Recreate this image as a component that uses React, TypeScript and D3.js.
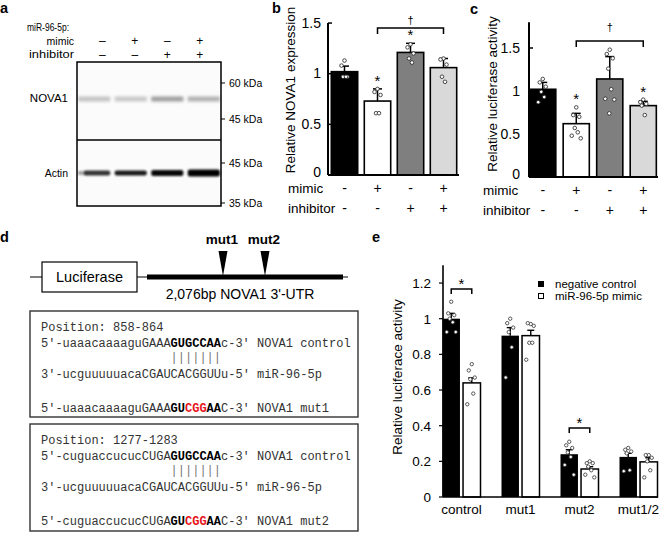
import React from "react";
import * as d3 from "d3";

// ---------- data ----------
const conditions = ["NC", "mimic", "inhibitor", "mimic+inhibitor"];
const mimicSigns = ["-", "+", "-", "+"];
const inhibitorSigns = ["-", "-", "+", "+"];
const barFills = ["#000000", "#ffffff", "#7f7f7f", "#d9d9d9"];

// panel b: relative NOVA1 expression
const nova1Means = [1.02, 0.73, 1.21, 1.06];
const nova1SD = [0.055, 0.12, 0.09, 0.09];
const nova1Dots = [
  [1.13, 1.08, 0.97, 0.97, 0.97],
  [0.85, 0.82, 0.79, 0.61, 0.61],
  [1.29, 1.26, 1.2, 1.15, 1.11],
  [1.15, 1.14, 1.09, 0.97, 0.92],
];
const nova1Sig = [false, true, true, false];
const nova1Ticks = [0, 0.5, 1, 1.5];

// panel c: relative luciferase activity
const lucMeans = [1.02, 0.62, 1.14, 0.83];
const lucSD = [0.08, 0.12, 0.26, 0.05];
const lucDots = [
  [1.14, 1.1, 1.05, 0.99, 0.93, 0.87],
  [0.81, 0.72, 0.7, 0.57, 0.52, 0.48, 0.45],
  [1.48, 1.43, 1.38, 1.26, 1.02, 0.91, 0.9, 0.74],
  [0.9, 0.87, 0.85, 0.83, 0.72],
];
const lucSig = [false, true, false, true];
const lucTicks = [0, 0.5, 1, 1.5];

// panel e: reporter constructs
const constructs = ["control", "mut1", "mut2", "mut1/2"];
const seriesNames = ["negative control", "miR-96-5p mimic"];
const ncMeans = [1.0, 0.905, 0.24, 0.225];
const ncSE = [0.03, 0.045, 0.025, 0.02];
const mimicMeans = [0.64, 0.905, 0.157, 0.197];
const mimicSE = [0.028, 0.03, 0.013, 0.023];
const ncDots = [
  [1.095, 1.03, 1.02, 1.0, 0.98, 0.925, 0.925],
  [1.0, 0.975, 0.95, 0.925, 0.84, 0.67],
  [0.31, 0.29, 0.275, 0.25, 0.225, 0.18, 0.125],
  [0.275, 0.265, 0.255, 0.245, 0.15, 0.145],
];
const mimicDots = [
  [0.745, 0.71, 0.67, 0.66, 0.58, 0.52],
  [0.97, 0.975, 0.96, 0.865, 0.865, 0.77],
  [0.2, 0.19, 0.19, 0.17, 0.15, 0.125, 0.11],
  [0.235, 0.235, 0.22, 0.2, 0.15, 0.11],
];
const constructSig = [true, false, true, false];
const eTicks = [0, 0.2, 0.4, 0.6, 0.8, 1, 1.2];

// panel a: western blot
const novaBandIntensity = [0.3, 0.27, 0.5, 0.4];
const actinBandIntensity = [0.8, 0.9, 0.97, 1];
const actinBandHeight = [5, 5, 6, 7];
const novaMarkers = ["60 kDa", "45 kDa"];
const actinMarkers = ["45 kDa", "35 kDa"];

// panel d: sequences
const site1 = "Position: 858-864";
const site2 = "Position: 1277-1283";
const ctrl1 = [{ t: "5'-uaaacaaaaguGAAA" }, { t: "GUGCCAA", b: true }, { t: "c-3' NOVA1 control" }];
const ctrl2 = [{ t: "5'-cuguaccucucCUGA" }, { t: "GUGCCAA", b: true }, { t: "c-3' NOVA1 control" }];
const mirna = [{ t: "3'-ucguuuuuacaCGAUCACGGUUu-5' miR-96-5p" }];
const mut1Seq = [
  { t: "5'-uaaacaaaaguGAAA" }, { t: "GU", b: true }, { t: "CGG", b: true, r: true },
  { t: "AA", b: true }, { t: "C-3' NOVA1 mut1" },
];
const mut2Seq = [
  { t: "5'-cuguaccucucCUGA" }, { t: "GU", b: true }, { t: "CGG", b: true, r: true },
  { t: "AA", b: true }, { t: "C-3' NOVA1 mut2" },
];
const pairs = "|||||||";

// ---------- styling ----------
const sans = "'Liberation Sans', Arial, sans-serif";
const mono = "'Liberation Mono', 'Courier New', monospace";
const jit = [0, -3, 3, -1.5, 1.5, -4.5, 4.5, -0.5];

type Seg = { t: string; b?: boolean; r?: boolean };

function SeqLine({ segs, x, y, cw }: { segs: Seg[]; x: number; y: number; cw: number }) {
  let idx = 0;
  return (
    <text y={y} fontFamily={mono} fontSize={12} fill="#333" style={{ whiteSpace: "pre" }}>
      {segs.map((s, i) => {
        const el = (
          <tspan key={i} x={x + idx * cw} fontWeight={s.b ? "bold" : "normal"} fill={s.r ? "#e8141b" : s.b ? "#000" : "#333"}>
            {s.t}
          </tspan>
        );
        idx += s.t.length;
        return el;
      })}
    </text>
  );
}

function BarPanel(props: {
  means: number[]; sds: number[]; dots: number[][]; sig: boolean[];
  axisX: number; baseY: number; yMax: number; pxPerUnit: number; ticks: number[];
  bandRange: [number, number]; pi: number; po: number; axisEnd: number;
  tickLabelX: number; rowLabelX: number; ylab: string; ylabX: number; ylabY: number;
  bracketVal: number; daggerGap: number;
}) {
  const p = props;
  const y = d3.scaleLinear().domain([0, p.yMax]).range([p.baseY, p.baseY - p.yMax * p.pxPerUnit]);
  const x = d3.scaleBand<number>().domain(d3.range(4)).range(p.bandRange).paddingInner(p.pi).paddingOuter(p.po);
  const bw = x.bandwidth();
  const cx = (i: number) => (x(i) as number) + bw / 2;
  const by = y(p.bracketVal);
  return (
    <g fontFamily={sans}>
      {p.means.map((m, i) => (
        <rect key={"bar" + i} x={x(i)} y={y(m)} width={bw} height={p.baseY - y(m)} fill={barFills[i]} stroke="#000" strokeWidth={1.6} />
      ))}
      {p.means.map((m, i) => (
        <g key={"err" + i} stroke="#000" strokeWidth={1.5}>
          <line x1={cx(i)} x2={cx(i)} y1={y(m)} y2={y(m + p.sds[i])} />
          <line x1={cx(i) - 4.5} x2={cx(i) + 4.5} y1={y(m + p.sds[i])} y2={y(m + p.sds[i])} />
        </g>
      ))}
      {p.dots.map((ds, i) =>
        ds.map((v, j) => (
          <circle key={"d" + i + "-" + j} cx={cx(i) + jit[j % 8]} cy={y(v)} r={1.8} fill="#fff" stroke="#222" strokeWidth={0.8} />
        ))
      )}
      {p.sig.map((s, i) =>
        s ? (
          <text key={"s" + i} x={cx(i)} y={y(Math.max(p.means[i] + p.sds[i], ...p.dots[i])) - 3} textAnchor="middle" fontSize={15}>*</text>
        ) : null
      )}
      <path d={`M${cx(1)},${by + 6}V${by}H${cx(3)}V${by + 6}`} fill="none" stroke="#000" strokeWidth={1.5} />
      <text x={(cx(1) + cx(3)) / 2} y={by - p.daggerGap} textAnchor="middle" fontSize={11}>†</text>
      <line x1={p.axisX} x2={p.axisX} y1={p.baseY} y2={y(p.yMax)} stroke="#000" strokeWidth={2} />
      <line x1={p.axisX} x2={p.axisEnd} y1={p.baseY} y2={p.baseY} stroke="#000" strokeWidth={2} />
      {p.ticks.map((t) => (
        <g key={"t" + t}>
          <line x1={p.axisX} x2={p.axisX + 4} y1={y(t)} y2={y(t)} stroke="#000" strokeWidth={1.5} />
          <text x={p.tickLabelX} y={y(t) + (t === 0 ? 2 : 4.5)} textAnchor="end" fontSize={14}>{t}</text>
        </g>
      ))}
      <text transform={`translate(${p.ylabX},${p.ylabY}) rotate(-90)`} textAnchor="middle" fontSize={13.5}>{p.ylab}</text>
      <text x={p.rowLabelX} y={p.baseY + 18} fontSize={13.5}>mimic</text>
      <text x={p.rowLabelX} y={p.baseY + 38} fontSize={13.5}>inhibitor</text>
      {conditions.map((c, i) => (
        <g key={"sg" + c}>
          <text x={cx(i)} y={p.baseY + 18} textAnchor="middle" fontSize={14}>{mimicSigns[i]}</text>
          <text x={cx(i)} y={p.baseY + 38} textAnchor="middle" fontSize={14}>{inhibitorSigns[i]}</text>
        </g>
      ))}
    </g>
  );
}

export default function App() {
  // ----- panel a -----
  const laneX = d3.scaleBand<number>().domain(d3.range(4)).range([77, 221]).paddingInner(0.12).paddingOuter(0.03);
  const signX = d3.scaleBand<number>().domain(d3.range(4)).range([86, 216]);
  const sgx = (i: number) => (signX(i) as number) + signX.bandwidth() / 2;

  // ----- panel e -----
  const yE = d3.scaleLinear().domain([0, 1.3]).range([497, 497 - 1.3 * 178.3]);
  const xE = d3.scaleBand<string>().domain(constructs).range([432, 668]);
  const xS = d3.scaleBand<number>().domain([0, 1]).range([-19, 19]).paddingInner(0.15);
  const gc = (c: string) => (xE(c) as number) + xE.bandwidth() / 2;
  const sbw = xS.bandwidth();
  const eSeries = [
    { means: ncMeans, se: ncSE, dots: ncDots, fill: "#000" },
    { means: mimicMeans, se: mimicSE, dots: mimicDots, fill: "#fff" },
  ];
  const eBracketVals = [1.167, 0, 0.387, 0];

  const cw = 7.2;
  const boxTops = [311, 424];
  const lineOff = [19.5, 35.5, 49.5, 66.5, 100.5];
  const boxes = [
    { pos: site1, ctrl: ctrl1, mut: mut1Seq },
    { pos: site2, ctrl: ctrl2, mut: mut2Seq },
  ];
  const mutArrowX = [223, 265];
  const mutLabels = ["mut1", "mut2"];

  return (
    <svg width={660} height={533} style={{ position: "absolute", left: 0, top: 0, background: "#fff" }} fontFamily={sans}>
      <defs>
        <filter id="blur" x="-20%" y="-100%" width="140%" height="300%">
          <feGaussianBlur stdDeviation="1.4" />
        </filter>
        <filter id="blur2" x="-20%" y="-100%" width="140%" height="300%">
          <feGaussianBlur stdDeviation="0.9" />
        </filter>
      </defs>
      <rect width={660} height={533} fill="#fff" />

      {/* ---------- panel a ---------- */}
      <text x={0} y={13} fontSize={14.5} fontWeight="bold">a</text>
      <text x={69} y={31} textAnchor="end" fontSize={10.5} textLength={42} lengthAdjust="spacingAndGlyphs">miR-96-5p:</text>
      <text x={74} y={45} textAnchor="end" fontSize={10.5}>mimic</text>
      <text x={74} y={58} textAnchor="end" fontSize={10.5} textLength={45} lengthAdjust="spacingAndGlyphs">inhibitor</text>
      {conditions.map((c, i) => (
        <g key={"as" + c} fontSize={12}>
          <text x={sgx(i)} y={45} textAnchor="middle">{mimicSigns[i] === "-" ? "–" : "+"}</text>
          <text x={sgx(i)} y={59} textAnchor="middle">{inhibitorSigns[i] === "-" ? "–" : "+"}</text>
        </g>
      ))}
      <rect x={77} y={62} width={144} height={144} fill="#fbfbfb" />
      {novaBandIntensity.map((v, i) => (
        <rect key={"nb" + i} x={laneX(i)} y={96.5} width={laneX.bandwidth()} height={5} fill="#444" opacity={v} filter="url(#blur)" />
      ))}
      {actinBandIntensity.map((v, i) => (
        <rect key={"ab" + i} x={(laneX(i) as number) + (i === 0 ? 6 : 0)} y={173 - actinBandHeight[i] / 2} width={laneX.bandwidth() - (i === 0 ? 6 : 0)} height={actinBandHeight[i]} rx={2} fill="#000" opacity={v} filter="url(#blur2)" />
      ))}
      <rect x={(laneX(0) as number)} y={171} width={8} height={4} fill="#000" opacity={0.35} filter="url(#blur2)" />
      <rect x={77} y={62} width={144} height={144} fill="none" stroke="#000" strokeWidth={1.5} />
      <line x1={77} x2={221} y1={140} y2={140} stroke="#000" strokeWidth={1.5} />
      <text x={68} y={102} textAnchor="end" fontSize={11.5}>NOVA1</text>
      <text x={68} y={177} textAnchor="end" fontSize={10.5}>Actin</text>
      {[83, 119].map((yy, i) => (
        <g key={"nm" + i}>
          <line x1={221} x2={225} y1={yy} y2={yy} stroke="#000" strokeWidth={1} />
          <text x={229} y={yy + 4} fontSize={10.5}>{novaMarkers[i]}</text>
        </g>
      ))}
      {[163, 203].map((yy, i) => (
        <g key={"am" + i}>
          <line x1={221} x2={225} y1={yy} y2={yy} stroke="#000" strokeWidth={1} />
          <text x={229} y={yy + 4} fontSize={10.5}>{actinMarkers[i]}</text>
        </g>
      ))}

      {/* ---------- panel b ---------- */}
      <text x={272} y={13} fontSize={14.5} fontWeight="bold">b</text>
      <BarPanel
        means={nova1Means} sds={nova1SD} dots={nova1Dots} sig={nova1Sig}
        axisX={328} baseY={175} yMax={1.5} pxPerUnit={101.3} ticks={nova1Ticks}
        bandRange={[328, 460]} pi={0.2} po={0.1} axisEnd={459}
        tickLabelX={321} rowLabelX={288} ylab="Relative NOVA1 expression" ylabX={295} ylabY={90}
        bracketVal={1.45} daggerGap={4}
      />

      {/* ---------- panel c ---------- */}
      <text x={470} y={14} fontSize={14.5} fontWeight="bold">c</text>
      <BarPanel
        means={lucMeans} sds={lucSD} dots={lucDots} sig={lucSig}
        axisX={529} baseY={177} yMax={1.8} pxPerUnit={86} ticks={lucTicks}
        bandRange={[528, 658]} pi={0.22} po={0.05} axisEnd={658}
        tickLabelX={520} rowLabelX={483} ylab="Relative luciferase activity" ylabX={497} ylabY={94}
        bracketVal={1.58} daggerGap={10}
      />

      {/* ---------- panel d ---------- */}
      <text x={0} y={242} fontSize={14.5} fontWeight="bold">d</text>
      <line x1={30} x2={348} y1={277} y2={277} stroke="#000" strokeWidth={1.2} />
      <rect x={42} y={262} width={95} height={30} fill="#fff" stroke="#000" strokeWidth={1.2} />
      <text x={89.5} y={282} textAnchor="middle" fontSize={14.5}>Luciferase</text>
      <rect x={147} y={274.5} width={196} height={5} fill="#000" />
      <text x={240} y={299} textAnchor="middle" fontSize={14}>2,076bp NOVA1 3'-UTR</text>
      {mutArrowX.map((mx, i) => (
        <g key={"ma" + i}>
          <path d={`M${mx - 4.5},251L${mx + 4.5},251L${mx},276Z`} fill="#000" />
          <text x={mx - 1} y={244} textAnchor="middle" fontSize={13.5} fontWeight="bold">{mutLabels[i]}</text>
        </g>
      ))}
      {boxes.map((bx, k) => {
        const t = boxTops[k];
        return (
          <g key={"box" + k}>
            <rect x={30} y={t} width={328} height={k === 0 ? 106 : 107} fill="#fff" stroke="#333" strokeWidth={1.4} />
            <text x={41} y={t + lineOff[0]} fontFamily={mono} fontSize={12} fill="#333">{bx.pos}</text>
            <SeqLine segs={bx.ctrl} x={41} y={t + lineOff[1]} cw={cw} />
            <text x={41 + 18 * cw} y={t + lineOff[2]} fontFamily={mono} fontSize={12} fill="#777" style={{ whiteSpace: "pre" }}>{pairs}</text>
            <SeqLine segs={mirna} x={41} y={t + lineOff[3]} cw={cw} />
            <SeqLine segs={bx.mut} x={41} y={t + lineOff[4]} cw={cw} />
          </g>
        );
      })}

      {/* ---------- panel e ---------- */}
      <text x={372} y={242} fontSize={14.5} fontWeight="bold">e</text>
      {eSeries.map((s, si) =>
        constructs.map((c, i) => {
          const x0 = gc(c) + (xS(si) as number);
          return (
            <rect key={"eb" + si + c} x={x0} y={yE(s.means[i])} width={sbw} height={497 - yE(s.means[i])} fill={s.fill} stroke="#000" strokeWidth={si === 1 ? 1.5 : 0} />
          );
        })
      )}
      {eSeries.map((s, si) =>
        constructs.map((c, i) => {
          const xc = gc(c) + (xS(si) as number) + sbw / 2;
          const top = yE(s.means[i] + s.se[i]);
          return (
            <g key={"ee" + si + c} stroke="#000" strokeWidth={1.4}>
              <line x1={xc} x2={xc} y1={yE(s.means[i])} y2={top} />
              <line x1={xc - 3.5} x2={xc + 3.5} y1={top} y2={top} />
            </g>
          );
        })
      )}
      {eSeries.map((s, si) =>
        constructs.map((c, i) => {
          const xc = gc(c) + (xS(si) as number) + sbw / 2;
          return s.dots[i].map((v, j) => (
            <circle key={"ed" + si + c + j} cx={xc + jit[j % 8]} cy={yE(v)} r={1.7} fill="#fff" stroke="#333" strokeWidth={0.8} />
          ));
        })
      )}
      {constructs.map((c, i) => {
        if (!constructSig[i]) return null;
        const x1 = gc(c) + (xS(0) as number) + sbw / 2;
        const x2 = gc(c) + (xS(1) as number) + sbw / 2;
        const by = yE(eBracketVals[i]);
        return (
          <g key={"esig" + c}>
            <path d={`M${x1},${by + 5}V${by}H${x2}V${by + 5}`} fill="none" stroke="#000" strokeWidth={1.5} />
            <text x={(x1 + x2) / 2} y={by} textAnchor="middle" fontSize={15}>*</text>
          </g>
        );
      })}
      <line x1={443} x2={443} y1={497} y2={yE(1.3)} stroke="#000" strokeWidth={1.6} />
      <line x1={443} x2={658} y1={497} y2={497} stroke="#000" strokeWidth={1.6} />
      {eTicks.map((t) => (
        <g key={"et" + t}>
          <line x1={439} x2={443} y1={yE(t)} y2={yE(t)} stroke="#000" strokeWidth={1.2} />
          <text x={431} y={yE(t) + 5} textAnchor="end" fontSize={13.5}>{t}</text>
        </g>
      ))}
      {constructs.map((c) => (
        <text key={"el" + c} x={gc(c)} y={514} textAnchor="middle" fontSize={13.5}>{c}</text>
      ))}
      <text transform="translate(402,377) rotate(-90)" textAnchor="middle" fontSize={13.5}>Relative luciferace activity</text>
      {seriesNames.map((n, i) => (
        <g key={"lg" + n}>
          <rect x={538.5} y={281.5 + i * 12} width={5} height={5} fill={eSeries[i].fill} stroke="#000" strokeWidth={1} />
          <text x={555} y={287.5 + i * 12} fontSize={11.5}>{n}</text>
        </g>
      ))}
    </svg>
  );
}
